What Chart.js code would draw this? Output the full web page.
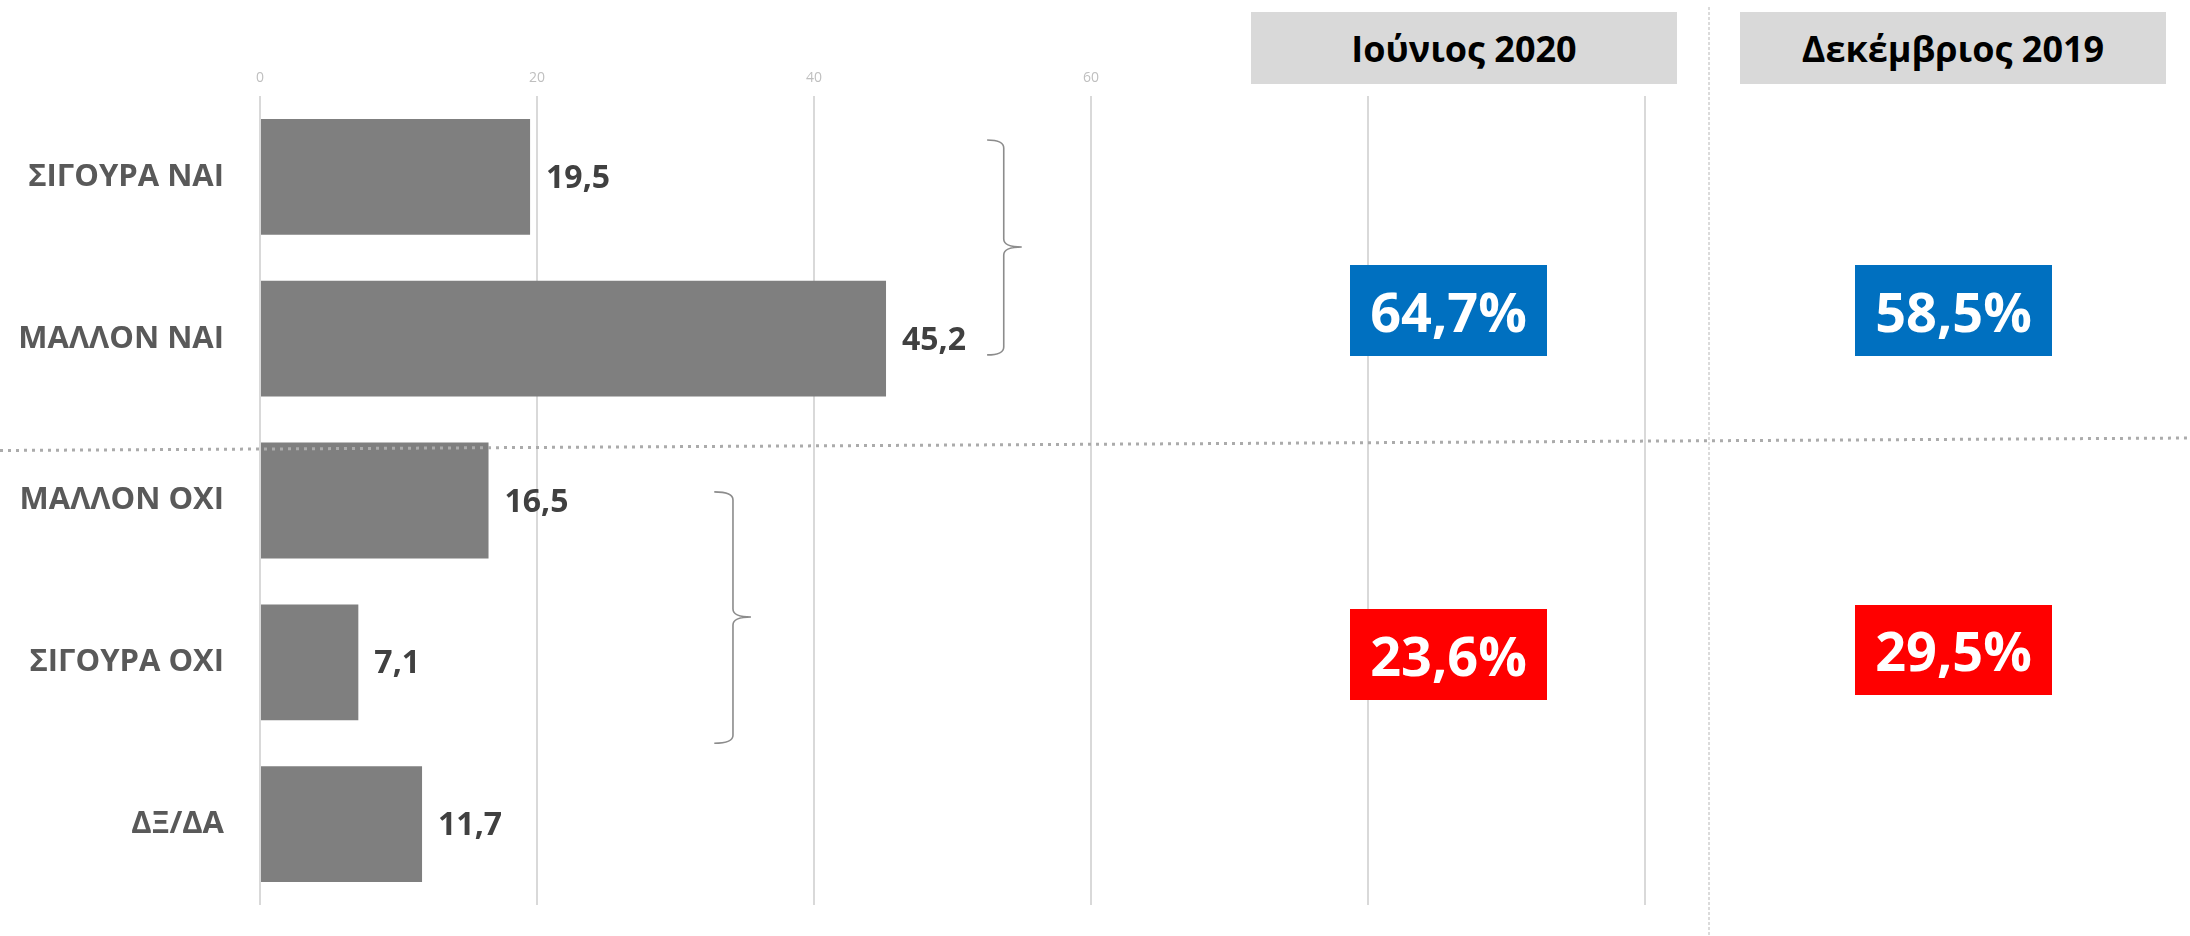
<!DOCTYPE html>
<html>
<head>
<meta charset="utf-8">
<script src="https://cdn.jsdelivr.net/npm/chart.js@4/dist/chart.umd.min.js"></script>
<style>
  html, body { margin: 0; padding: 0; background: #ffffff; }
  #wrap { position: relative; width: 2190px; height: 936px; overflow: hidden; }
  #c { position: absolute; left: 0; top: 0; }
  .box { position: absolute; display: flex; align-items: center; justify-content: center;
         font-family: "Open Sans", "DejaVu Sans", sans-serif; font-weight: 700; white-space: nowrap; }
  .hdr { background: #d9d9d9; color: #000000; font-size: 36px; }
  .pct { color: #ffffff; font-size: 54px; }
</style>
</head>
<body>
<div id="wrap">
  <canvas id="c" width="2190" height="936"></canvas>
</div>
<script>
// ---- data ----
const categories = ['ΣΙΓΟΥΡΑ ΝΑΙ', 'ΜΑΛΛΟΝ ΝΑΙ', 'ΜΑΛΛΟΝ ΟΧΙ', 'ΣΙΓΟΥΡΑ ΟΧΙ', 'ΔΞ/ΔΑ'];
const values = [19.5, 45.2, 16.5, 7.1, 11.7];
const periods = ['Ιούνιος 2020', 'Δεκέμβριος 2019'];
const totalYes = [64.7, 58.5];
const totalNo = [23.6, 29.5];
const xTickValues = [0, 20, 40, 60, 80, 100];

// ---- layout / styles (not data) ----
const FONT = '"Open Sans", "DejaVu Sans", sans-serif';
const fmt = v => v.toFixed(1).replace('.', ',');
// braces in data units: x (value axis) left/vertical/tip, y (category index) top/mid/bottom
const braces = [
  { x0: 52.5, xv: 53.7, xt: 55.0, yTop: -0.228, yMid: 0.433, yBot: 1.10 },
  { x0: 32.8, xv: 34.15, xt: 35.45, yTop: 1.947, yMid: 2.72, yBot: 3.50 }
];
const headerBoxes = [
  { left: 1251, top: 12, width: 426, height: 72 },
  { left: 1740, top: 12, width: 426, height: 72 }
];
const yesBoxes = [
  { left: 1350, top: 265, width: 197, height: 91 },
  { left: 1855, top: 265, width: 197, height: 91 }
];
const noBoxes = [
  { left: 1350, top: 609, width: 197, height: 91 },
  { left: 1855, top: 605, width: 197, height: 90 }
];

const wrap = document.getElementById('wrap');
function addBox(cls, pos, text, bg) {
  const d = document.createElement('div');
  d.className = 'box ' + cls;
  d.style.left = pos.left + 'px';
  d.style.top = pos.top + 'px';
  d.style.width = pos.width + 'px';
  d.style.height = pos.height + 'px';
  if (bg) d.style.background = bg;
  d.textContent = text;
  wrap.appendChild(d);
}

const decorPlugin = {
  id: 'decor',
  afterDatasetsDraw(chart) {
    const ctx = chart.ctx;
    const meta = chart.getDatasetMeta(0);
    ctx.save();
    ctx.font = 'bold 32px ' + FONT;
    ctx.fillStyle = '#404040';
    ctx.textAlign = 'left';
    ctx.textBaseline = 'middle';
    meta.data.forEach((bar, i) => {
      ctx.fillText(fmt(values[i]), bar.x + 16, bar.y + 2);
    });
    ctx.restore();
  },
  afterDraw(chart) {
    const ctx = chart.ctx;
    const xs = chart.scales.x, ys = chart.scales.y;
    ctx.save();
    // braces
    ctx.strokeStyle = '#8c8c8c';
    ctx.lineWidth = 1.6;
    braces.forEach(b => {
      const x0 = xs.getPixelForValue(b.x0), xv = xs.getPixelForValue(b.xv), xt = xs.getPixelForValue(b.xt);
      const yT = ys.getPixelForValue(b.yTop), yM = ys.getPixelForValue(b.yMid), yB = ys.getPixelForValue(b.yBot);
      const r = 8;
      ctx.beginPath();
      ctx.moveTo(x0, yT);
      ctx.quadraticCurveTo(xv, yT, xv, yT + r);
      ctx.lineTo(xv, yM - r);
      ctx.quadraticCurveTo(xv, yM, xt, yM);
      ctx.quadraticCurveTo(xv, yM, xv, yM + r);
      ctx.lineTo(xv, yB - r);
      ctx.quadraticCurveTo(xv, yB, x0, yB);
      ctx.stroke();
    });
    // slanted dotted separator
    ctx.strokeStyle = '#ababab';
    ctx.lineWidth = 3;
    ctx.setLineDash([3, 5]);
    ctx.beginPath();
    ctx.moveTo(0, 450.5);
    ctx.lineTo(chart.width, 438);
    ctx.stroke();
    // vertical dotted separator
    ctx.strokeStyle = '#d0d0d0';
    ctx.lineWidth = 1.5;
    ctx.setLineDash([3, 2]);
    ctx.beginPath();
    ctx.moveTo(1709, 7);
    ctx.lineTo(1709, chart.height);
    ctx.stroke();
    ctx.restore();
  }
};

new Chart(document.getElementById('c'), {
  type: 'bar',
  data: {
    labels: categories,
    datasets: [{
      data: values,
      backgroundColor: '#7f7f7f',
      borderWidth: 0,
      categoryPercentage: 0.716,
      barPercentage: 1.0
    }]
  },
  options: {
    indexAxis: 'y',
    responsive: false,
    animation: false,
    events: [],
    layout: { padding: { left: 0, right: 545, top: 0, bottom: 31 } },
    plugins: { legend: { display: false }, tooltip: { enabled: false } },
    scales: {
      x: {
        position: 'top',
        min: 0,
        max: 100,
        afterBuildTicks: s => { s.ticks = xTickValues.map(v => ({ value: v })); },
        afterFit: s => { s.height = 96; s.paddingLeft = 0; s.paddingRight = 0; },
        ticks: {
          color: '#bfbfbf',
          font: { family: FONT, size: 14 },
          padding: 10,
          maxRotation: 0
        },
        grid: { color: '#d9d9d9', lineWidth: 2, drawTicks: false },
        border: { display: false }
      },
      y: {
        afterFit: s => { s.width = 260; s.paddingTop = 0; s.paddingBottom = 0; },
        ticks: {
          color: '#595959',
          font: { family: FONT, size: 31, weight: 'bold' },
          padding: 36
        },
        grid: { display: false, drawTicks: false },
        border: { display: false }
      }
    }
  },
  plugins: [decorPlugin]
});

periods.forEach((p, i) => addBox('hdr', headerBoxes[i], p));
totalYes.forEach((v, i) => addBox('pct', yesBoxes[i], fmt(v) + '%', '#0070c0'));
totalNo.forEach((v, i) => addBox('pct', noBoxes[i], fmt(v) + '%', '#ff0000'));
</script>
</body>
</html>
